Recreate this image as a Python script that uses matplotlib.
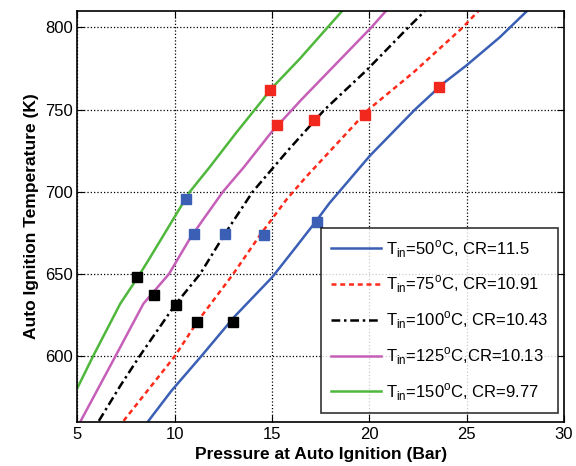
import matplotlib
matplotlib.use("Agg")
import matplotlib.pyplot as plt

plt.rcParams['font.family'] = ['Liberation Sans', 'DejaVu Sans']
plt.rcParams['mathtext.fontset'] = 'custom'
plt.rcParams['mathtext.rm'] = 'Liberation Sans'

# Curves: temperature (K) and pressure (bar)
T_50 = [560.7, 579, 600, 624, 648, 666, 682, 693, 722, 750, 766, 777, 794, 810]
p_50 = [8.65, 9.83, 11.36, 13.06, 15.0, 16.2, 17.25, 17.94, 20.03, 22.34, 23.8, 25.0, 26.7, 28.1]

T_75 = [560.7, 600, 621, 650, 674, 695, 709, 722, 750, 773, 800, 810]
p_75 = [7.37, 10.0, 11.16, 13.0, 14.4, 15.72, 16.74, 17.76, 19.95, 22.3, 24.8, 25.6]

T_100 = [560.7, 582, 600, 631, 650, 674, 700, 725, 750, 774, 800, 810]
p_100 = [6.1, 7.2, 8.19, 10.0, 11.3, 12.55, 14.0, 15.8, 17.7, 19.86, 22.0, 22.85]

T_125 = [560.7, 600, 632, 650, 672, 683, 700, 715, 736, 756, 800, 810]
p_125 = [5.17, 6.95, 8.39, 9.7, 10.8, 11.45, 12.47, 13.55, 14.95, 16.5, 20.1, 20.85]

T_150 = [580.8, 600, 632, 648, 658.5, 681, 700, 715, 736, 756, 762, 781, 800, 810]
p_150 = [5.0, 5.8, 7.2, 8.1, 8.65, 9.8, 10.77, 11.79, 13.16, 14.52, 14.9, 16.43, 17.85, 18.6]

# Square markers
red_p = [14.9, 15.24, 17.17, 19.8, 23.6]
red_T = [762, 740.8, 743.5, 747, 764]
blue_p = [10.6, 10.97, 12.59, 14.57, 17.3]
blue_T = [695.5, 674.1, 674.1, 673.5, 681.6]
black_p = [8.05, 8.94, 10.04, 11.16, 12.97]
black_T = [648, 637.3, 631.2, 620.6, 620.6]

labels = [r'T$_{\rm in}$=50$^{\rm o}$C, CR=11.5',
          r'T$_{\rm in}$=75$^{\rm o}$C, CR=10.91',
          r'T$_{\rm in}$=100$^{\rm o}$C, CR=10.43',
          r'T$_{\rm in}$=125$^{\rm o}$C,CR=10.13',
          r'T$_{\rm in}$=150$^{\rm o}$C, CR=9.77']

fig = plt.figure(figsize=(5.76, 4.66), dpi=100)
ax = fig.add_axes([0.1345, 0.0944, 0.8446, 0.8820])

lw = 1.8
ax.plot(p_50, T_50, color='#3a5fb4', lw=lw, label=labels[0])
ax.plot(p_75, T_75, color='#ff2a1a', lw=lw, ls=(0, (2, 1.5)), label=labels[1])
ax.plot(p_100, T_100, color='black', lw=lw, ls=(0, (3.5, 1.5, 1, 1.5)), label=labels[2])
ax.plot(p_125, T_125, color='#c65fb8', lw=lw, label=labels[3])
ax.plot(p_150, T_150, color='#4fb83c', lw=lw, label=labels[4])

ax.plot(red_p, red_T, 's', color='#f0281e', ms=7, ls='none')
ax.plot(blue_p, blue_T, 's', color='#3a5fb4', ms=7, ls='none')
ax.plot(black_p, black_T, 's', color='black', ms=7, ls='none')

ax.set_xlim(5, 30)
ax.set_ylim(560, 810)
ax.set_xticks([5, 10, 15, 20, 25, 30])
ax.set_yticks([600, 650, 700, 750, 800])
ax.grid(True, color='black', ls=':', lw=0.9)
ax.tick_params(direction='in', top=True, right=True, labelsize=12, length=5)
for s in ax.spines.values():
    s.set_linewidth(1.2)

ax.set_xlabel('Pressure at Auto Ignition (Bar)', fontsize=12.5, fontweight='bold')
ax.set_ylabel('Auto Ignition Temperature (K)', fontsize=12.5, fontweight='bold')

leg = ax.legend(loc='lower right', bbox_to_anchor=(0.9877, 0.0219),
                fontsize=12, frameon=True, fancybox=False, edgecolor='black',
                labelspacing=0.85, handlelength=3.0, handletextpad=0.3,
                borderpad=0.6, borderaxespad=0.0)
leg.get_frame().set_linewidth(1.2)

fig.savefig('out.png', dpi=100)
